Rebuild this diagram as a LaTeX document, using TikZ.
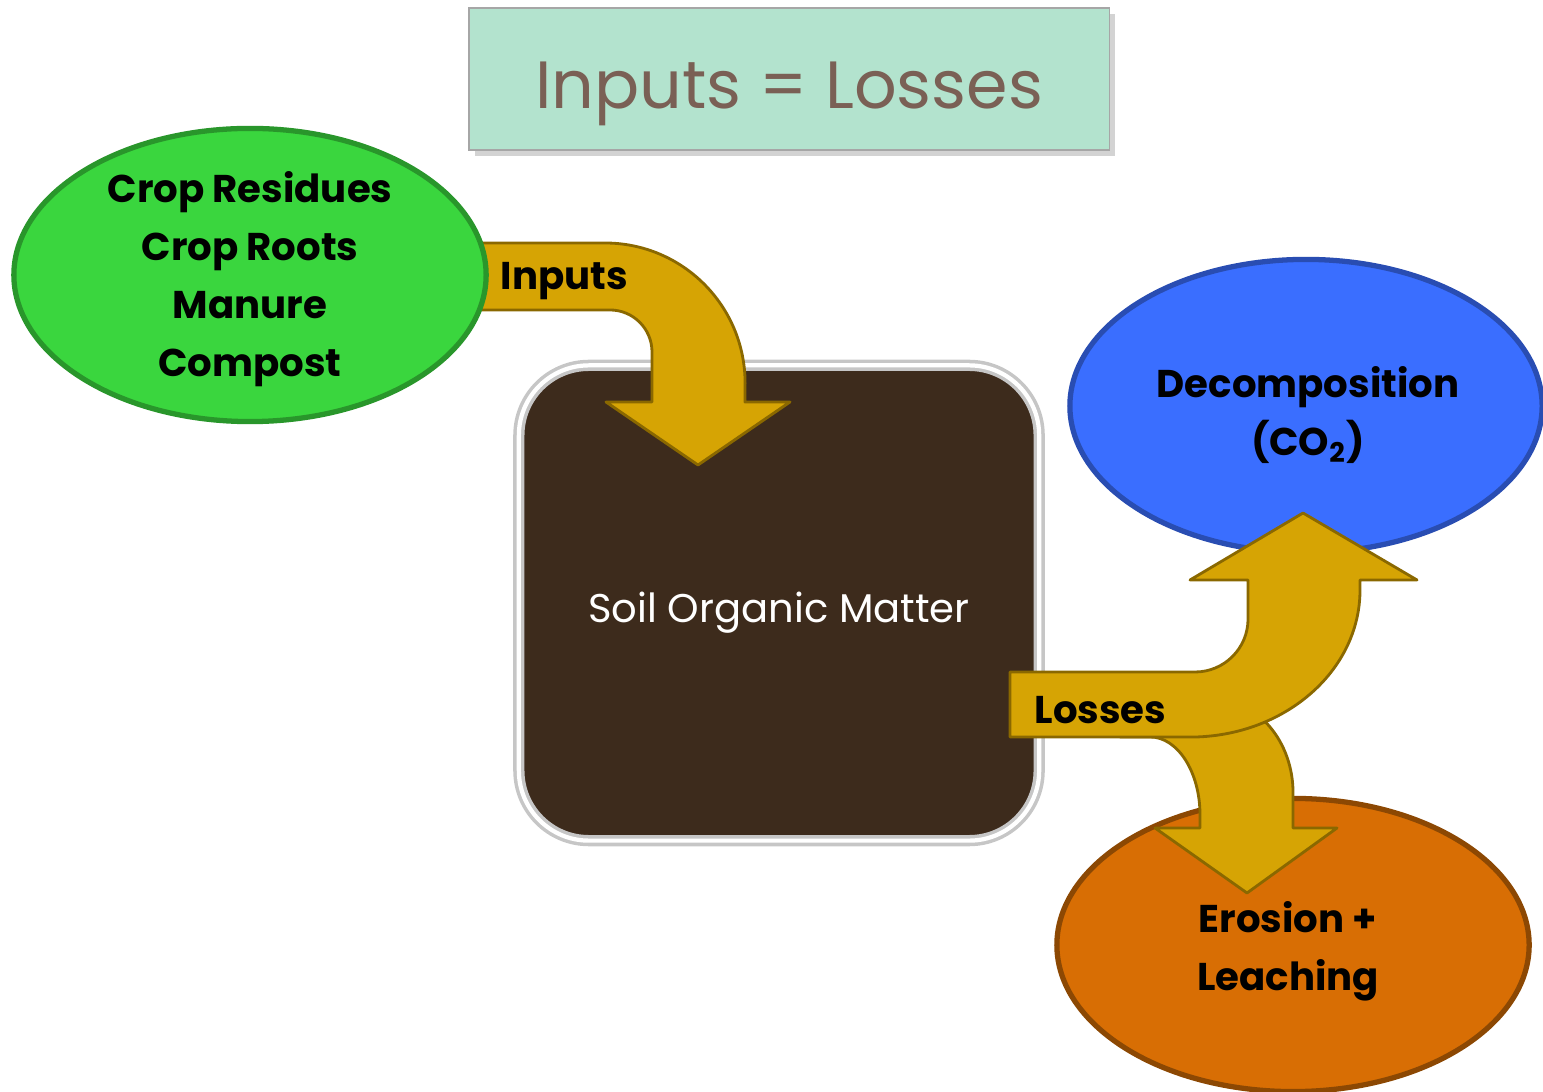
\documentclass[tikz,border=0pt]{standalone}
\usepackage{fontspec}
\setmainfont{Poppins}
\usetikzlibrary{shapes.geometric,shadows}
\definecolor{TitleFill}{HTML}{B3E3CE}
\definecolor{TitleText}{HTML}{7A6055}
\definecolor{SoilBrown}{HTML}{3D2B1C}
\definecolor{GoldFill}{HTML}{D6A404}
\definecolor{GoldEdge}{HTML}{8A6800}
\definecolor{LeafGreen}{HTML}{3AD63E}
\definecolor{SkyBlue}{HTML}{3A6EFF}
\definecolor{ClayOrange}{HTML}{D86E04}
\tikzset{
  blob/.style={ellipse, inner sep=0pt, minimum width=4.72cm, minimum height=2.93cm, line width=1.5pt},
  blobtext/.style={inner sep=0pt, align=center, font=\bfseries\fontsize{11}{16.5}\selectfont},
  goldband/.style={fill=GoldFill, draw=GoldEdge, line width=0.8pt, line join=round},
  bandlabel/.style={anchor=base west, inner sep=0pt, font=\bfseries\fontsize{11}{14}\selectfont},
}
\newcommand\Blob[6]{%
    \node[blob, fill=#5, draw=#6] (#1) at (#2) {};
    \node[blobtext] (#1Text) at (#3) {#4};
}

\begin{document}
\begin{tikzpicture}[x=0.01cm,y=-0.01cm]
    \useasboundingbox (0,0) rectangle (1543,1092);
    \node[draw=gray!70, fill=TitleFill, minimum width=6.4cm, minimum height=1.42cm,
        drop shadow={opacity=0.35, shadow xshift=0.6mm, shadow yshift=-0.6mm},
        text height=0.58cm, text depth=0cm,
        text=TitleText, font=\fontsize{19}{22}\selectfont] (Title) at (789,79) {Inputs = Losses};
    \node[rounded corners=0.7cm, fill=SoilBrown, draw=gray!45, double=white, double distance=1.2pt,
        line width=1pt, minimum width=5.2cm, minimum height=4.75cm, text=white,
        text height=0.38cm, text depth=0cm,
        font=\fontsize{11.4}{14}\selectfont] (Soil) at (779,603) {Soil Organic Matter};
    \draw[goldband] (478,243) -- (605,243) arc[start angle=90, end angle=0, radius=1.4cm]
        -- (745,402) -- (790,402) -- (698,465) -- (606,402) -- (652,402) -- (652,352)
        arc[start angle=0, end angle=90, radius=0.42cm] -- (478,310) -- cycle;
    \Blob{Sources}{250,275}{250,279}{Crop Residues\\Crop Roots\\Manure\\Compost}{LeafGreen}{LeafGreen!70!black}
    \Blob{Decomp}{1306,406}{1308,415}{Decomposition\\(CO\textsubscript{2})}{SkyBlue}{SkyBlue!70!black}
    \Blob{Erosion}{1293,945}{1288,951}{Erosion +\\Leaching}{ClayOrange}{ClayOrange!65!black}
    \draw[goldband] (1120,700) -- (1215,700) arc[start angle=90, end angle=0, x radius=0.78cm, y radius=0.93cm]
        -- (1293,828) -- (1337,828) -- (1247,893) -- (1155,828) -- (1200,828) -- (1200,815)
        arc[start angle=0, end angle=90, x radius=0.5cm, y radius=0.78cm] -- (1120,737) -- cycle;
    \draw[goldband] (1010,672) -- (1195,672) arc[start angle=-90, end angle=0, radius=0.53cm]
        -- (1248,580) -- (1190,580) -- (1303,513) -- (1417,580) -- (1360,580) -- (1360,590)
        arc[start angle=0, end angle=-90, x radius=1.7cm, y radius=1.47cm] -- (1010,737) -- cycle;
    \node[bandlabel] (InLabel) at (500,290) {Inputs};
    \node[bandlabel] (LossLabel) at (1034,724) {Losses};
\end{tikzpicture}
\end{document}
